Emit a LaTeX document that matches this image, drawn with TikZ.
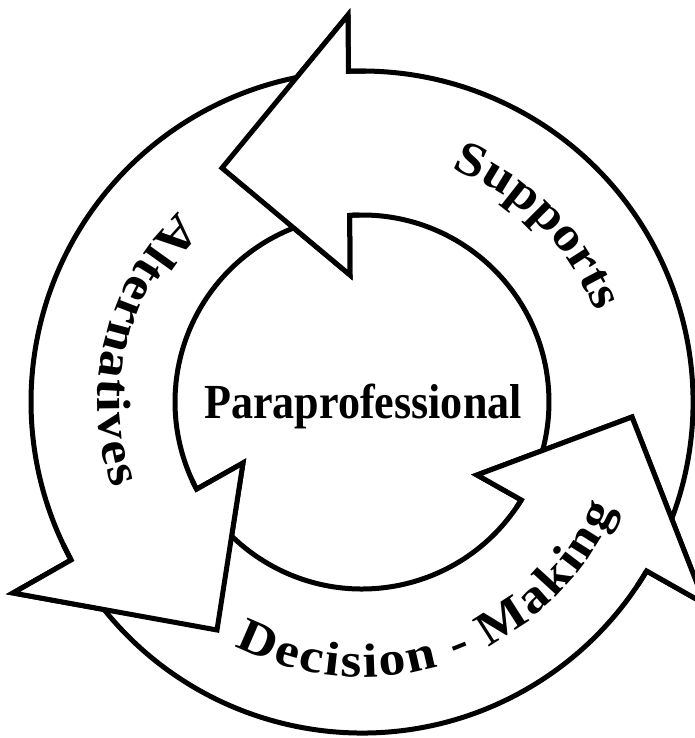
\documentclass[tikz,border=0pt]{standalone}
\usepackage{fontspec}
\usepackage{graphicx}
\setmainfont{Liberation Serif}
\newfontfamily\arcfont[FakeStretch=1.12]{Liberation Serif}
\usetikzlibrary{decorations.text}

\tikzset{
  cyclearrow/.style={draw, fill=white, line width=5pt, line join=miter},
  cycletext/.style={decorate, decoration={text along path, text align=fit to path, text={#1}}}
}

\begin{document}
\begin{tikzpicture}[x=1pt, y=1pt]
    \useasboundingbox (-362,-336) rectangle (332,402);
    \coordinate (Sup-oc) at (-14,387);
    \coordinate (Sup-tip) at (-140,234);
    \coordinate (Sup-ic) at (-12,127);
    \coordinate (Alt-oc) at (-349,-191);
    \coordinate (Alt-tip) at (-145,-228);
    \coordinate (Alt-ic) at (-119,-61);
    \coordinate (Dec-oc) at (343,-202);
    \coordinate (Dec-tip) at (270,-15);
    \coordinate (Dec-ic) at (115,-73);
    \foreach \n/\tail/\oe/\ie in {Sup/-25/92.35/93.8, Alt/97/208.5/207.8, Dec/212/329.3/328.4}
      \draw[cyclearrow] (\tail:331) arc[start angle=\tail, end angle=\oe, radius=331]
        -- (\n-oc) -- (\n-tip) -- (\n-ic) -- (\ie:187) arc[start angle=\ie, end angle=\tail, radius=187] -- cycle;
    \foreach \n/\oe/\ie in {Sup/92.35/93.8, Alt/208.5/207.8, Dec/329.3/328.4} {
      \fill[white] (\n-oc) -- (\n-tip) -- (\n-ic) -- cycle;
      \draw[cyclearrow, fill=none] (\oe-3:331) arc[start angle=\oe-3, end angle=\oe, radius=331]
        -- (\n-oc) -- (\n-tip) -- (\n-ic) -- (\ie:187) arc[start angle=\ie, end angle=\ie-3, radius=187];
    }
    \node (para) [anchor=base] at (1,-17) {\bfseries\fontsize{49}{49}\selectfont\scalebox{0.9}[1]{Paraprofessional}};
    \path[cycletext={|\arcfont\bfseries\fontsize{48}{48}\selectfont|Supports}] (69:250) arc[start angle=69, end angle=21.5, radius=250];
    \path[cycletext={|\arcfont\bfseries\fontsize{48}{48}\selectfont|Alternatives}] (134:264) arc[start angle=134, end angle=199, radius=264];
    \path[cycletext={|\arcfont\bfseries\fontsize{48}{48}\selectfont|Decision - Making}] (242.5:275) arc[start angle=242.5, end angle=337, radius=275];
\end{tikzpicture}
\end{document}
